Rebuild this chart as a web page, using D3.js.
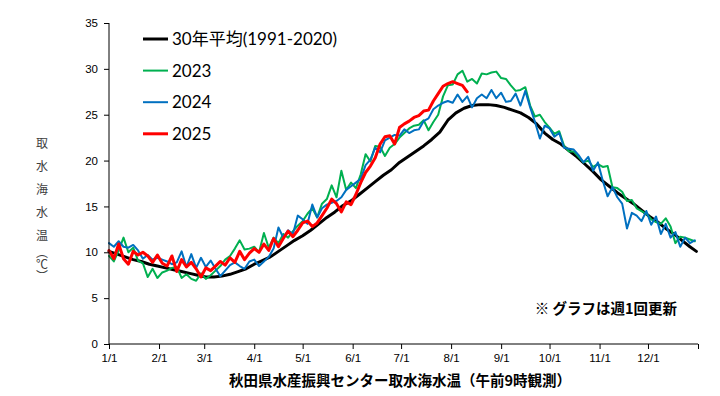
<!DOCTYPE html>
<html lang="ja">
<head>
<meta charset="utf-8">
<script src="https://cdn.jsdelivr.net/npm/d3@7"></script>
<style>
  html, body { margin: 0; padding: 0; background: #fff; }
  svg { display: block; font-family: Lato, "Noto Sans CJK JP", sans-serif; }
  .tick text { fill: #000; font-size: 11.5px; }
  .tick line, .domain { stroke: #000; }
  .legend-text { font-size: 17px; fill: #000; }
  .y-label { font-size: 12px; fill: #404040; font-family: "Noto Sans CJK JP", sans-serif; }
  .x-title, .note { font-weight: bold; fill: #000; font-family: "Noto Sans CJK JP", sans-serif; }
  .line-path { fill: none; stroke-linejoin: round; stroke-linecap: round; }
</style>
</head>
<body>
<div id="chart"></div>
<script>
// month start days (day of year, 0 = 1/1) and tick labels
const monthDays = [0, 31, 59, 90, 120, 151, 181, 212, 243, 273, 304, 334, 365];
const monthLabels = ["1/1", "2/1", "3/1", "4/1", "5/1", "6/1", "7/1", "8/1", "9/1", "10/1", "11/1", "12/1", ""];
const yTicks = [0, 5, 10, 15, 20, 25, 30, 35];

// 30-year mean, one value every 5 days (last point = 12/31)
const normalStep = 5;
const normal = [
  10.1, 9.8, 9.5, 9.2, 9.0, 8.7, 8.5, 8.3, 8.1, 7.9, 7.7, 7.5, 7.3, 7.3, 7.4, 7.6,
  7.9, 8.2, 8.7, 9.1, 9.5, 10.1, 10.7, 11.3, 11.8, 12.4, 13.1, 13.8, 14.4, 15.1,
  15.6, 16.3, 17.0, 17.7, 18.4, 19.0, 19.8, 20.4, 21.0, 21.6, 22.3, 23.1, 24.4,
  25.2, 25.7, 26.0, 26.1, 26.1, 26.0, 25.8, 25.5, 25.2, 24.7, 24.0, 23.0, 22.3,
  21.8, 21.1, 20.4, 19.6, 18.8, 17.9, 17.2, 16.5, 15.9, 15.3, 14.6, 13.9, 13.3,
  12.6, 12.0, 11.3, 10.6, 10.1
];

// yearly series, one value every 3 days from 1/1
const step = 3;
const y2023 = [
  9.6, 9.0, 10.2, 11.6, 10.0, 10.5, 9.1, 8.8, 7.3, 8.2, 7.2, 7.8, 8.0, 8.3, 8.4, 7.2,
  7.6, 7.1, 6.9, 7.7, 7.1, 7.5, 8.0, 8.5, 9.2, 9.6, 10.4, 11.3, 10.3, 10.4, 10.6,
  10.0, 12.1, 10.5, 11.6, 11.0, 12.0, 11.6, 12.3, 12.9, 13.4, 14.2, 14.8, 13.8, 15.3,
  15.8, 17.3, 16.0, 18.9, 16.8, 17.6, 17.0, 18.5, 20.7, 19.9, 21.6, 21.5, 20.5, 21.4,
  21.8, 22.5, 23.0, 23.5, 23.8, 23.9, 24.4, 23.3, 24.2, 25.0, 27.0, 28.2, 28.3, 29.4,
  29.8, 28.6, 28.9, 28.4, 29.5, 29.4, 29.6, 29.7, 29.0, 28.9, 28.2, 27.6, 27.7, 28.0,
  26.0, 24.8, 25.0, 24.2, 23.6, 22.9, 23.2, 21.6, 21.0, 21.0, 20.4, 19.8, 20.0, 19.3,
  19.6, 19.3, 19.4, 17.1, 17.0, 16.6, 15.6, 15.7, 14.8, 14.5, 14.2, 13.6, 13.3, 13.1,
  13.7, 12.8, 11.0, 11.7, 11.6, 11.4, 11.2
];
const y2024 = [
  11.0, 10.6, 11.2, 10.6, 10.5, 10.8, 10.2, 9.3, 9.7, 9.2, 9.4, 9.2, 9.0, 8.7, 8.9,
  10.1, 8.4, 9.8, 8.3, 9.4, 8.4, 9.1, 8.2, 7.4, 8.0, 8.6, 8.9, 8.5, 8.2, 9.0, 9.2,
  8.5, 9.0, 9.5, 10.4, 12.7, 11.6, 12.4, 12.0, 14.0, 13.6, 13.1, 15.2, 13.8, 14.8,
  15.2, 15.4, 15.6, 16.0, 16.8, 17.2, 17.6, 18.0, 19.5, 20.1, 21.4, 20.9, 22.2, 22.5,
  22.8, 22.7, 23.4, 23.0, 23.3, 23.4, 24.3, 24.6, 25.6, 26.0, 26.3, 26.5, 26.3, 27.2,
  26.4, 27.0, 25.8, 26.8, 27.2, 26.8, 27.7, 26.8, 27.4, 26.4, 26.5, 27.3, 26.0, 27.6,
  25.8, 24.2, 22.4, 23.8, 23.5, 22.6, 23.0, 21.4, 21.3, 21.2, 20.6, 19.8, 20.4, 18.9,
  19.8, 17.8, 16.1, 17.1, 16.0, 15.3, 12.6, 14.3, 14.0, 13.4, 14.5, 13.0, 13.9, 12.0,
  13.1, 11.6, 12.2, 10.6, 11.6, 11.0, 11.3
];
const y2025 = [
  10.2, 9.3, 10.9, 9.3, 8.7, 10.1, 9.7, 10.0, 9.6, 8.9, 9.7, 8.8, 8.5, 9.6, 7.9, 9.2,
  8.4, 8.9, 8.2, 7.3, 8.3, 8.0, 8.5, 9.0, 8.6, 9.4, 8.9, 10.1, 9.2, 9.9, 10.4, 10.0,
  10.9, 10.2, 11.5, 10.6, 11.5, 12.3, 11.7, 12.4, 13.2, 13.4, 12.8, 13.2, 14.0, 14.8,
  15.8, 15.3, 14.4, 15.5, 15.2, 16.3, 17.6, 18.7, 19.4, 20.3, 21.8, 22.6, 22.7, 21.8,
  23.6, 24.0, 24.3, 24.7, 24.9, 25.4, 25.5, 26.5, 27.3, 28.1, 28.4, 28.6, 28.4, 28.2,
  27.5
];

const series = [
  { name: "30年平均(1991-2020)", values: normal, step: normalStep, color: "#000000", width: 3 },
  { name: "2023", values: y2023, step: step, color: "#00B050", width: 2 },
  { name: "2024", values: y2024, step: step, color: "#0070C0", width: 2 },
  { name: "2025", values: y2025, step: step, color: "#FF0000", width: 3 },
];

const width = 720;
const height = 396;
const margin = { top: 23, right: 22, bottom: 52, left: 109 };

const x = d3.scaleLinear().domain([0, 365]).range([margin.left, width - margin.right]);
const y = d3.scaleLinear().domain([0, 35]).range([height - margin.bottom, margin.top]);

const line = d3
  .line()
  .x((d) => x(d.day))
  .y((d) => y(d.value));

const svg = d3
  .select("#chart")
  .append("svg")
  .attr("width", width)
  .attr("height", height)
  .attr("viewBox", [0, 0, width, height]);

// lines
const gLines = svg.append("g").attr("class", "lines-g");
gLines
  .selectAll(".line-path")
  .data(series)
  .join("path")
  .attr("class", "line-path")
  .attr("stroke", (d) => d.color)
  .attr("stroke-width", (d) => d.width)
  .attr("d", (d) => {
    const pts = d.values.map((v, i) => ({ day: Math.min(i * d.step, 364), value: v }));
    return line(pts);
  });

// y axis
svg
  .append("g")
  .attr("transform", `translate(${margin.left},0)`)
  .call(d3.axisLeft(y).tickValues(yTicks).tickSize(5).tickPadding(6))
  .call((g) => g.select(".domain").attr("d", `M0,${y(0)}V${y(35)}`));

// x axis
svg
  .append("g")
  .attr("transform", `translate(0,${y(0)})`)
  .call(
    d3
      .axisBottom(x)
      .tickValues(monthDays)
      .tickFormat((d, i) => monthLabels[i])
      .tickSize(5)
      .tickPadding(5)
  )
  .call((g) => g.select(".domain").attr("d", `M${x(0)},0H${x(365)}`));

svg
  .append("text")
  .attr("class", "x-title")
  .attr("x", 400)
  .attr("y", 386)
  .attr("text-anchor", "middle")
  .style("font-size", "14.5px")
  .text("秋田県水産振興センター取水海水温（午前9時観測）");

// vertical y label
const yLabelChars = ["取", "水", "海", "水", "温"];
svg
  .append("g")
  .selectAll("text")
  .data(yLabelChars)
  .join("text")
  .attr("class", "y-label")
  .attr("x", 42)
  .attr("y", (d, i) => 148 + i * 23)
  .attr("text-anchor", "middle")
  .text((d) => d);
svg
  .append("text")
  .attr("class", "y-label")
  .attr("x", 42)
  .attr("y", 246)
  .style("writing-mode", "vertical-rl")
  .text("（℃）");

// legend
const legend = svg
  .append("g")
  .selectAll("g")
  .data(series)
  .join("g")
  .attr("transform", (d, i) => `translate(143,${39 + i * 31.6})`);
legend
  .append("line")
  .attr("x2", 25)
  .attr("stroke", (d) => d.color)
  .attr("stroke-width", (d) => d.width);
legend
  .append("text")
  .attr("class", "legend-text")
  .attr("x", 29)
  .attr("dy", "0.35em")
  .text((d) => d.name);

svg
  .append("text")
  .attr("class", "note")
  .attr("x", 677)
  .attr("y", 314)
  .attr("text-anchor", "end")
  .style("font-size", "14.5px")
  .text("※ グラフは週1回更新");
</script>
</body>
</html>
